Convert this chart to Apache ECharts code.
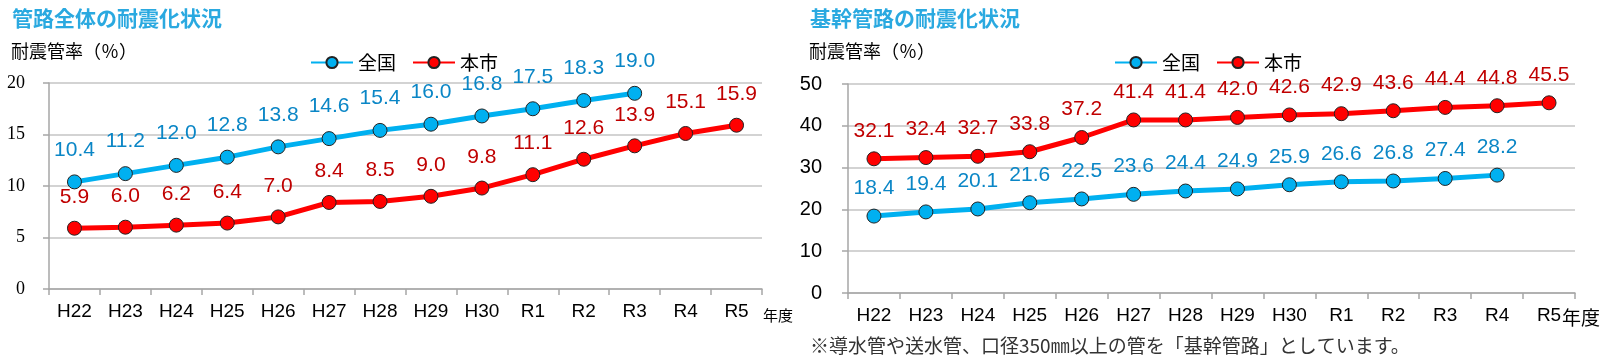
<!DOCTYPE html>
<html><head><meta charset="utf-8">
<script src="https://cdn.jsdelivr.net/npm/echarts@6/dist/echarts.min.js"></script>
<style>html,body{margin:0;padding:0;background:#fff}#c{width:1611px;height:358px}</style>
</head><body><div id="c"></div>
<script>
const categories = ['H22','H23','H24','H25','H26','H27','H28','H29','H30','R1','R2','R3','R4','R5'];
const totalNational = [10.4, 11.2, 12.0, 12.8, 13.8, 14.6, 15.4, 16.0, 16.8, 17.5, 18.3, 19.0];
const totalCity = [5.9, 6.0, 6.2, 6.4, 7.0, 8.4, 8.5, 9.0, 9.8, 11.1, 12.6, 13.9, 15.1, 15.9];
const trunkNational = [18.4, 19.4, 20.1, 21.6, 22.5, 23.6, 24.4, 24.9, 25.9, 26.6, 26.8, 27.4, 28.2];
const trunkCity = [32.1, 32.4, 32.7, 33.8, 37.2, 41.4, 41.4, 42.0, 42.6, 42.9, 43.6, 44.4, 44.8, 45.5];
const seriesNames = ['全国', '本市'];

const NARROW = '"Liberation Sans Narrow", "Liberation Sans", sans-serif';
const CJK = '"Noto Sans CJK JP", sans-serif';
const BLUE = '#00b0f0', RED = '#ff0000', BLUE_LBL = '#0a86c6', RED_LBL = '#c00000';
const AXIS_C = '#a6a6a6', GRID_C = '#c4c4c4';

function mkSeries(name, data, idx, color, lblColor, dist) {
  return {
    type: 'line', name, data, xAxisIndex: idx, yAxisIndex: idx,
    symbol: 'circle', symbolSize: 14,
    lineStyle: { color, width: 5 },
    itemStyle: { color, borderColor: '#222', borderWidth: 1 },
    label: { show: true, position: 'top', distance: dist, color: lblColor,
      fontFamily: NARROW, fontSize: 21, formatter: p => Number(p.value).toFixed(1) },
    emphasis: { disabled: true }
  };
}
function mkX(idx) {
  return {
    type: 'category', gridIndex: idx, data: categories, boundaryGap: true,
    axisLine: { show: true, lineStyle: { color: AXIS_C, width: 1.5 } },
    axisTick: { show: true, length: 6, lineStyle: { color: AXIS_C, width: 1.5 } },
    axisLabel: { margin: 13, fontFamily: NARROW, fontSize: 19, color: '#000' },
    splitLine: { show: false }
  };
}
function mkY(idx, max, interval, font, fs, margin) {
  return {
    type: 'value', gridIndex: idx, min: 0, max, interval,
    axisLine: { show: true, lineStyle: { color: AXIS_C, width: 1.5 } },
    axisTick: { show: true, length: 6, lineStyle: { color: AXIS_C, width: 1.5 } },
    axisLabel: { margin, fontFamily: font, fontSize: fs, color: '#000' },
    splitLine: { show: true, lineStyle: { color: GRID_C, width: 1.5 } }
  };
}
const legendBase = {
  data: seriesNames, itemWidth: 42, itemHeight: 14, itemGap: 16, top: 48,
  textStyle: { fontFamily: CJK, fontSize: 19, color: '#000' }
};

const chart = echarts.init(document.getElementById('c'));
chart.setOption({
  animation: false,
  color: [BLUE, RED],
  title: [
    { text: '管路全体の耐震化状況', left: 7, top: 3, textStyle: { fontFamily: CJK, fontSize: 21, fontWeight: 'bold', color: '#2aa9e0' } },
    { text: '耐震管率（％）', left: 6, top: 37, textStyle: { fontFamily: CJK, fontSize: 18, fontWeight: 'normal', color: '#000' } },
    { text: '年度', left: 758, top: 303, textStyle: { fontFamily: CJK, fontSize: 15, fontWeight: 'normal', color: '#000' } },
    { text: '基幹管路の耐震化状況', left: 805, top: 3, textStyle: { fontFamily: CJK, fontSize: 21, fontWeight: 'bold', color: '#2aa9e0' } },
    { text: '耐震管率（％）', left: 804, top: 37, textStyle: { fontFamily: CJK, fontSize: 18, fontWeight: 'normal', color: '#000' } },
    { text: '年度', left: 1557, top: 303, textStyle: { fontFamily: CJK, fontSize: 19, fontWeight: 'normal', color: '#000' } },
    { text: '※導水管や送水管、口径350㎜以上の管を「基幹管路」としています。', left: 805, top: 331, textStyle: { fontFamily: CJK, fontSize: 19, fontWeight: 'normal', color: '#333' } }
  ],
  legend: [
    Object.assign({}, legendBase, { left: 305 }),
    Object.assign({}, legendBase, { left: 1109 })
  ],
  grid: [
    { left: 49, top: 83, width: 713, height: 206 },
    { left: 848, top: 84, width: 727, height: 209 }
  ],
  xAxis: [mkX(0), mkX(1)],
  yAxis: [
    mkY(0, 20, 5, '"Liberation Serif", serif', 18, 24),
    mkY(1, 50, 10, NARROW, 20, 26)
  ],
  series: [
    mkSeries(seriesNames[0], totalNational, 0, BLUE, BLUE_LBL, 14),
    mkSeries(seriesNames[1], totalCity, 0, RED, RED_LBL, 13),
    mkSeries(seriesNames[0], trunkNational, 1, BLUE, BLUE_LBL, 10),
    mkSeries(seriesNames[1], trunkCity, 1, RED, RED_LBL, 10)
  ]
});
</script></body></html>
